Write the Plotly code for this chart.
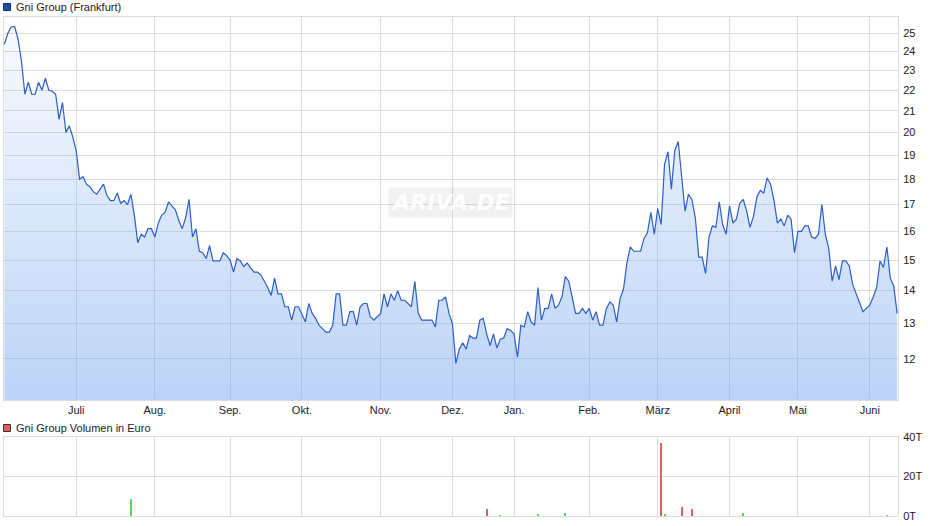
import math
import pandas as pd
import plotly.graph_objects as go

# ---------------- data ----------------
price = [
    24.4, 25.0, 25.37, 25.4, 24.7, 23.5, 21.8, 22.4, 21.8, 21.8, 22.4, 22.0, 22.6, 22.0, 21.95, 21.8,
    20.6, 21.4, 20.0, 20.3, 19.8, 19.2, 18.0, 18.1, 17.8, 17.7, 17.5, 17.4, 17.6, 17.8, 17.35, 17.15,
    17.15, 17.45, 17.05, 17.15, 17.0, 17.4, 16.6, 15.6, 15.9, 15.8, 16.1, 16.1,
    15.8, 16.3, 16.6, 16.7, 17.1, 16.95, 16.8, 16.4, 16.1, 16.5, 17.2, 15.8, 16.1, 15.3, 15.25, 15.05,
    15.5, 14.97, 14.97, 14.97, 15.25, 15.15, 15.0, 14.6, 15.05, 14.97, 14.78, 14.9, 14.73, 14.6, 14.6,
    14.5, 14.3, 14.1, 13.85, 14.4, 13.9, 13.9, 13.5, 13.5, 13.1, 13.5, 13.5, 13.25, 13.05,
    13.6, 13.3, 13.15, 12.95, 12.85, 12.75, 12.75, 12.95, 13.9, 13.9, 12.95, 12.95, 13.35, 13.35, 12.95,
    13.5, 13.6, 13.6, 13.2, 13.1, 13.2, 13.3, 13.9, 13.5, 13.9, 13.7, 14.0, 13.7, 13.7, 13.6, 13.5,
    14.3, 13.3, 13.1, 13.1, 13.1, 13.1, 12.9, 13.7, 13.7, 13.8, 13.3, 13.0, 11.88,
    12.27, 12.45, 12.27, 12.65, 12.58, 12.58, 13.1, 13.15, 12.7, 12.37, 12.7, 12.3, 12.55, 12.58, 12.85,
    12.8, 12.7, 12.05, 12.95, 12.9, 13.35, 13.05, 12.95, 14.1, 13.1, 13.45, 13.45, 13.9, 13.45, 13.55,
    13.8, 14.45, 14.3, 13.8, 13.3, 13.3, 13.45, 13.3, 13.45, 13.1, 13.35, 12.95, 12.95, 13.45, 13.65,
    13.55, 13.05, 13.75, 14.05, 14.9, 15.45, 15.3, 15.3, 15.3, 15.75, 15.95, 16.7, 15.9, 16.85, 16.25,
    18.6, 19.15, 17.6, 19.2, 19.6, 18.2, 16.75, 17.4, 17.2, 16.5, 15.1, 15.1, 14.55, 15.8, 16.2, 16.15,
    17.1, 16.25, 15.9, 16.95, 16.3, 16.45, 17.05, 17.2, 16.75,
    16.15, 16.55, 17.3, 17.55, 17.45, 18.05, 17.8, 17.15, 16.3, 16.45, 16.2, 16.6, 16.45, 15.25, 16.0,
    16.0, 16.2, 16.2, 15.8, 15.75, 15.9, 17.0, 15.9, 15.4, 14.3, 14.8, 14.35, 14.97, 14.97, 14.8, 14.2,
    13.9, 13.65, 13.35, 13.45, 13.55, 13.8, 14.1, 14.97, 14.75, 15.45, 14.4, 14.15, 13.3,
]

start_date = "2024-05-31"
holidays = ["2024-12-24", "2024-12-25", "2024-12-26", "2024-12-31",
            "2025-01-01", "2025-04-18", "2025-04-21", "2025-05-01"]

month_labels = ["Juli", "Aug.", "Sep.", "Okt.", "Nov.", "Dez.",
                "Jan.", "Feb.", "März", "April", "Mai", "Juni"]
first_label_month = "2024-07"

vol_dates = ["2024-07-23", "2024-12-16", "2024-12-20", "2025-01-13", "2025-01-23",
             "2025-03-04", "2025-03-05", "2025-03-12", "2025-03-17", "2025-04-07", "2025-06-09"]
vol_values = [8600, 3500, 500, 1000, 1500, 37000, 1000, 4500, 3500, 1500, 300]

price_ticks = [12, 13, 14, 15, 16, 17, 18, 19, 20, 21, 22, 23, 24, 25]
vol_ticks = [0, 20000, 40000]
vol_tick_text = ["0T", "20T", "40T"]

# ---------------- derived ----------------
days = [d.strftime("%Y-%m-%d") for d in pd.bdate_range(start_date, "2025-12-31")
        if d.strftime("%Y-%m-%d") not in holidays][:len(price)]
N = len(days)

month_ticks = []
for i in range(1, N):
    if days[i][5:7] != days[i - 1][5:7] and days[i][:7] >= first_label_month:
        month_ticks.append(days[i])
month_ticks = month_ticks[:len(month_labels)]

vol_full = [0] * N
vol_col = ["rgba(0,0,0,0)"] * N
for d, v in zip(vol_dates, vol_values):
    i = days.index(d)
    vol_full[i] = v
    vol_col[i] = "#5fd35a" if price[i] >= price[i - 1] else "#d9625d"

# ---------------- figure ----------------
W, H = 940, 526
ML, MR, MT, MB = 4, 42, 17, 10
PW, PH = W - ML - MR, H - MT - MB


def px_x(p):
    return (p - ML) / PW


def px_y(p):
    return (H - MB - p) / PH


GRID = "#dcdcdc"
FONT = "Liberation Sans, Arial, sans-serif"

fig = go.Figure()
fig.add_trace(go.Scatter(
    x=days, y=price, mode="lines", xaxis="x", yaxis="y",
    line=dict(color="#2a5ec8", width=1.2),
    fill="tozeroy",
    fillgradient=dict(type="vertical", start=10.94, stop=25.9,
                      colorscale=[[0, "rgba(121,167,239,0.5)"], [1, "rgba(121,167,239,0.04)"]]),
    hoverinfo="skip", showlegend=False,
))
fig.add_trace(go.Bar(
    x=days, y=vol_full, xaxis="x2", yaxis="y2",
    marker=dict(color=vol_col, line=dict(width=0)), width=0.6,
    hoverinfo="skip", showlegend=False,
))

xcommon = dict(type="category", categoryorder="array", categoryarray=days,
               range=[-0.1, N - 1 + 0.25], tickmode="array", tickvals=month_ticks,
               showgrid=True, gridcolor=GRID, gridwidth=1, zeroline=False,
               showline=True, linecolor=GRID, mirror=True, ticks="", automargin=False)

fig.update_layout(
    template="none",
    width=W, height=H,
    margin=dict(l=ML, r=MR, t=MT, b=MB, autoexpand=False),
    paper_bgcolor="white", plot_bgcolor="white",
    font=dict(family=FONT, size=11, color="#222"),
    bargap=0,
    hovermode=False,
    xaxis=dict(**xcommon, ticktext=month_labels, anchor="y", showticklabels=True,
               tickfont=dict(size=11, color="#222")),
    xaxis2=dict(**xcommon, ticktext=month_labels, anchor="y2", matches="x", showticklabels=False),
    yaxis=dict(type="log", domain=[px_y(400), 1.0],
               range=[math.log10(10.94), math.log10(25.95)],
               side="right", tickmode="array", tickvals=price_ticks,
               ticktext=[str(t) for t in price_ticks],
               showgrid=True, gridcolor=GRID, zeroline=False,
               showline=True, linecolor=GRID, mirror=True, ticks="",
               ticklabelstandoff=2, anchor="x", automargin=False),
    yaxis2=dict(domain=[0, px_y(437)], range=[0, 40000],
                side="right", tickmode="array", tickvals=vol_ticks, ticktext=vol_tick_text,
                showgrid=True, gridcolor=GRID, zeroline=False,
                showline=True, linecolor=GRID, mirror=True, ticks="",
                ticklabelstandoff=2, anchor="x2", automargin=False),
)

# legends (as annotations + squares)
fig.add_shape(type="rect", xref="paper", yref="paper",
              x0=px_x(3.5), x1=px_x(10.5), y0=px_y(10.5), y1=px_y(3.5),
              fillcolor="#1f4fa6", line=dict(color="#14306a", width=1))
fig.add_annotation(text="Gni Group (Frankfurt)", xref="paper", yref="paper",
                   x=px_x(14), y=px_y(7), xanchor="left", yanchor="middle",
                   showarrow=False, font=dict(size=11, color="#222"))
fig.add_shape(type="rect", xref="paper", yref="paper",
              x0=px_x(3.5), x1=px_x(10.5), y0=px_y(431.5), y1=px_y(424.5),
              fillcolor="#d9645e", line=dict(color="#4a2a2a", width=1))
fig.add_annotation(text="Gni Group Volumen in Euro", xref="paper", yref="paper",
                   x=px_x(14), y=px_y(428), xanchor="left", yanchor="middle",
                   showarrow=False, font=dict(size=11, color="#222"))

# watermark
fig.add_annotation(text="<b><i>ARIVA.DE</i></b>", xref="paper", yref="paper",
                   x=px_x(450), y=px_y(202), xanchor="center", yanchor="middle",
                   showarrow=False, font=dict(size=22, color="rgba(255,255,255,0.95)",
                                              family="DejaVu Sans, sans-serif"),
                   bgcolor="rgba(150,150,150,0.13)", borderpad=2)

fig.write_html("out.html",
               config={"displayModeBar": False, "staticPlot": True},
               post_script="document.body.style.margin='0';document.body.style.padding='0';")
